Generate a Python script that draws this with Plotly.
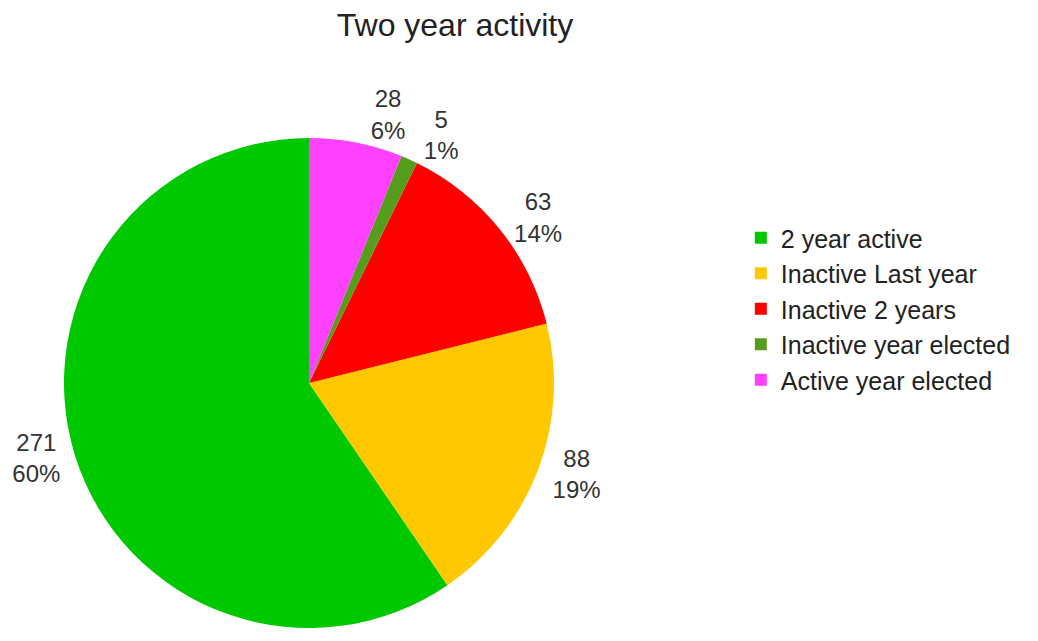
import plotly.graph_objects as go

categories = ["2 year active", "Inactive Last year", "Inactive 2 years",
              "Inactive year elected", "Active year elected"]
values = [271, 88, 63, 5, 28]
colors = ["#00c800", "#ffc800", "#ff0000", "#579d1c", "#ff40ff"]

W, H = 1038, 641
OFF = 8  # page body margin
cx, cy, r = 309 - OFF, 383 - OFF, 245
domain = dict(x=[(cx - r) / W, (cx + r) / W],
              y=[(H - cy - r) / H, (H - cy + r) / H])
label_font = dict(family="Liberation Sans", size=24, color="#333333")
last = len(values) - 1

common = dict(labels=categories, values=values, sort=False,
              direction="counterclockwise", rotation=145.6,
              texttemplate="%{value}<br>%{percent:.0%}",
              textfont=label_font, domain=domain)

# main pie: labels for all slices except the last (drawn separately so that
# plotly does not stack it with its small neighbour and add a leader line)
fig = go.Figure(go.Pie(
    **common,
    marker=dict(colors=colors, line=dict(width=0)),
    textposition=["outside" if i != last else "none" for i in range(len(values))],
    hoverinfo="label+value+percent",
))
fig.add_trace(go.Pie(
    **common,
    marker=dict(colors=["rgba(0,0,0,0)"] * len(values), line=dict(width=0)),
    textposition=["outside" if i == last else "none" for i in range(len(values))],
    showlegend=False,
    hoverinfo="skip",
))

fig.update_layout(
    width=W, height=H,
    margin=dict(l=0, r=0, t=0, b=0),
    paper_bgcolor="white",
    font=dict(family="Liberation Sans", color="#222222"),
    title=dict(text="Two year activity", x=(455 - OFF) / W, xanchor="center",
               y=(H - (25 - OFF)) / H, yanchor="middle",
               font=dict(family="Liberation Sans", size=32, color="#222222")),
    legend=dict(x=0.706, xanchor="left", y=(H - (309 - OFF)) / H, yanchor="middle",
                font=dict(family="Liberation Sans", size=25, color="#222222"),
                bgcolor="rgba(0,0,0,0)"),
    shapes=[dict(type="line", xref="paper", yref="paper",
                 x0=(1033 - OFF) / W, x1=(1033 - OFF) / W, y0=0, y1=1,
                 line=dict(color="#d0d4d8", width=1))],
)

fig.write_html("out.html")
